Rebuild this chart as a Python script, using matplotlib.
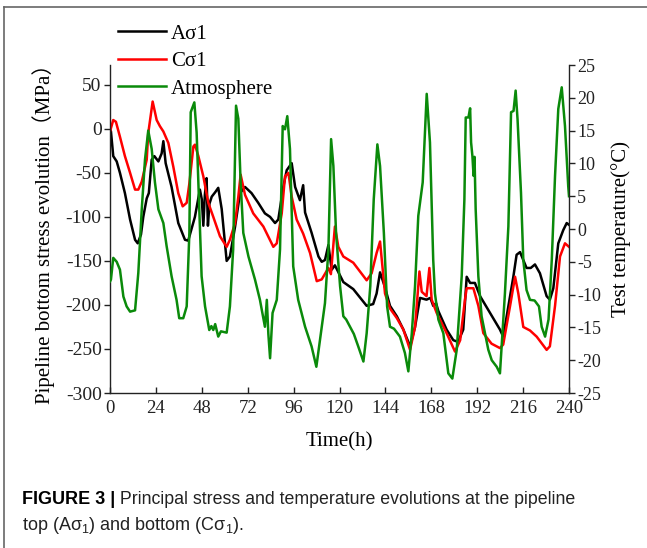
import matplotlib
matplotlib.use("Agg")
import matplotlib.pyplot as plt
from matplotlib.lines import Line2D

# ---- data ----
# A sigma1 (pipeline top stress, MPa)
a_time = [0, 0.5, 1.7, 3.5, 5.2, 7.8, 10.5, 13.1, 14.5, 16.2, 17.4, 19.2, 20.3, 21.8, 23.2,
          25.3, 27.0, 27.9, 29.1, 32.2, 35.7, 39.2, 40.9, 44.4, 47.0, 48.0, 48.8, 49.6, 50.5,
          51.2, 52.0, 53.2, 55.0, 56.6, 58.4, 61.0, 62.7, 65.4, 68.0, 70.6, 74.0, 77.5, 81.0,
          83.7, 86.3, 88.0, 90.6, 92.4, 95.0, 96.8, 99.3, 101.0, 102.0, 105.4, 109.0, 110.7,
          112.4, 114.2, 115.9, 117.6, 122.0, 127.2, 134.2, 137.6, 139.4, 141.2, 143.8, 146.4,
          150.0, 153.4, 156.9, 159.5, 162.1, 165.5, 167.5, 169.0, 170.5, 171.7, 176.0, 179.5,
          182.0, 184.7, 186.5, 188.3, 190.8, 193.5, 198.7, 203.9, 205.6, 207.4, 210.9, 212.6,
          214.4, 216.1, 217.8, 220.0, 222.2, 224.8, 228.3, 230.0, 231.8, 234.4, 237.0, 238.8, 240.0]
a_sigma = [0, -3, -31, -37, -50, -73, -103, -126, -130, -120, -100, -79, -73, -35, -31,
           -37, -28, -14, -39, -66, -107, -126, -127, -100, -69, -80, -110, -75, -56,
           -110, -85, -77, -72, -67, -91, -150, -145, -111, -73, -66, -73, -84, -96,
           -100, -107, -103, -66, -47, -39, -66, -81, -64, -95, -118, -145, -151,
           -149, -132, -160, -155, -174, -182, -201, -199, -187, -163, -180, -201,
           -213, -228, -247, -225, -192, -194, -192, -201, -198, -207, -228, -240,
           -242, -228, -168, -175, -175, -190, -209, -228, -236, -213, -168, -143,
           -140, -149, -158, -158, -154, -164, -190, -194, -181, -130, -115, -107, -109]

# C sigma1 (pipeline bottom stress, MPa)
c_time = [0, 1.7, 3.1, 5.2, 7.8, 10.5, 13.1, 14.8, 16.6, 19.2, 20.0, 22.3, 24.4, 26.1, 27.9,
          30.5, 33.1, 35.7, 38.0, 40.1, 41.5, 43.6, 44.4, 46.2, 48.8, 51.4, 54.0, 57.5, 61.0,
          62.7, 65.4, 67.1, 68.3, 70.6, 74.9, 80.2, 85.4, 87.2, 89.8, 91.5, 93.3, 95.0, 97.6,
          101.0, 104.6, 108.1, 110.7, 114.2, 115.5, 117.6, 119.4, 122.0, 127.2, 134.2, 136.8,
          139.4, 141.2, 143.8, 146.4, 150.0, 153.4, 156.9, 159.5, 161.8, 163.0, 165.5, 167.0,
          168.2, 170.8, 176.0, 180.4, 183.1, 185.6, 186.5, 190.0, 192.6, 195.2, 199.5, 203.9,
          205.6, 209.2, 211.8, 213.5, 216.1, 219.6, 223.1, 228.3, 230.0, 232.7, 235.3, 237.9, 240.0]
c_sigma = [-3, 10, 8, -9, -31, -50, -69, -69, -60, -35, -5, 31, 10, 3, -3,
           -16, -43, -73, -88, -84, -62, -20, -18, -31, -54, -84, -100, -122, -134,
           -126, -107, -77, -52, -75, -96, -111, -134, -130, -96, -54, -50, -77, -103,
           -119, -141, -173, -171, -158, -165, -111, -134, -145, -152, -172, -164,
           -141, -128, -187, -204, -215, -228, -251, -225, -162, -185, -190, -158,
           -194, -209, -232, -253, -240, -194, -181, -181, -201, -232, -244, -249,
           -245, -201, -168, -187, -225, -229, -236, -251, -247, -201, -145, -130, -134]

# Atmosphere temperature (deg C, right axis)
t_time = [0, 0.5, 1.7, 3.5, 5.2, 7.0, 8.7, 10.5, 13.1, 14.8, 16.6, 18.3, 20.0, 21.8, 23.5,
          25.3, 27.9, 29.6, 32.2, 34.8, 36.2, 38.3, 40.1, 41.5, 42.2, 44.1, 45.3, 46.5, 47.9,
          49.7, 51.9, 53.0, 54.0, 55.0, 56.6, 58.0, 61.0, 62.7, 64.4, 65.9, 67.1, 68.3, 69.7,
          72.4, 75.8, 78.4, 81.0, 82.0, 82.8, 83.7, 85.0, 87.2, 88.9, 90.3, 91.5, 92.7, 94.1,
          95.8, 98.4, 102.0, 105.4, 107.9, 110.7, 112.4, 114.2, 115.6, 116.8, 118.2, 120.3,
          122.0, 123.5, 125.5, 127.5, 129.8, 132.5, 134.2, 136.1, 137.9, 139.8, 141.2, 143.2,
          144.9, 146.4, 148.5, 151.6, 154.2, 156.0, 157.8, 159.5, 161.2, 163.5, 164.7, 165.6,
          167.3, 169.0, 169.9, 171.7, 174.3, 176.9, 179.0, 181.3, 183.9, 185.3, 186.0, 187.4,
          188.3, 188.8, 189.5, 190.1, 190.6, 191.2, 192.6, 194.3, 196.1, 197.8, 199.6, 202.2,
          203.9, 205.1, 206.5, 208.3, 209.7, 211.0, 212.1, 213.1, 214.9, 216.1, 217.8, 219.6,
          222.0, 224.3, 225.7, 227.5, 229.3, 231.0, 232.7, 234.4, 236.2, 237.9, 239.6, 240.0]
t_temp = [-8.0, -7.7, -4.4, -5.0, -6.2, -10.3, -11.8, -12.6, -12.4, -6.7, 3.0, 10.6, 15.0, 12.2, 7.1,
          3.0, 0.9, -2.6, -7.2, -10.8, -13.6, -13.6, -11.8, -0.6, 17.8, 19.3, 14.7, 4.5, -7.2,
          -11.8, -15.4, -14.8, -15.4, -14.5, -16.4, -15.6, -15.8, -11.8, -3.1, 18.8, 16.8, 7.1, -0.6,
          -4.2, -7.7, -10.8, -14.9, -10.8, -16.0, -19.7, -12.8, -10.8, -3.1, 15.7, 15.2, 17.2, 12.2,
          -5.7, -10.8, -14.9, -17.9, -21.0, -14.9, -11.3, -3.1, 13.7, 9.6, -0.6, -8.7,
          -13.3, -13.8, -14.9, -16.0, -17.9, -20.2, -15.9, -8.7, 4.5, 12.9, 9.6, -0.6,
          -11.8, -14.9, -15.2, -16.4, -18.9, -21.7, -15.9, -8.7, 2.0, 7.1, 14.7, 20.6,
          13.2, -4.7, -9.8, -13.8, -15.9, -22.0, -22.8, -18.4, -7.2, 4.5, 17.0, 17.0,
          18.4, 13.2, 11.1, 8.1, 11.0, 3.0, -7.2, -13.3, -15.9, -18.4, -20.0, -21.0,
          -22.0, -16.4, -9.8, 0.4, 17.8, 18.0, 21.1, 16.7, 5.5, -4.7, -9.3, -10.8,
          -10.9, -11.8, -14.9, -16.4, -13.8, -4.7, 8.1, 18.3, 21.6, 15.7, 6.5, 5.0]

series_labels = ["A\u03c31", "C\u03c31", "Atmosphere"]
x_ticks = list(range(0, 241, 24))
left_ticks = list(range(-300, 51, 50))
right_ticks = list(range(-25, 26, 5))

plt.rcParams["font.family"] = ["Liberation Serif", "Noto Sans CJK SC"]
plt.rcParams["axes.unicode_minus"] = False
plt.rcParams["mathtext.fontset"] = "custom"
plt.rcParams["mathtext.rm"] = "Liberation Sans"
plt.rcParams["mathtext.it"] = "Liberation Sans:italic"

W, H = 647, 548
fig = plt.figure(figsize=(W / 100, H / 100), dpi=100)
ax = fig.add_axes([110 / W, 1 - 393 / H, 459 / W, 328 / H])
ax2 = ax.twinx()

spine_col = "#222222"
l1, = ax.plot(a_time, a_sigma, color="black", lw=1.8)
l2, = ax.plot(c_time, c_sigma, color="#ff0000", lw=1.8)
l3, = ax2.plot(t_time, t_temp, color="#0a8a0a", lw=1.8)

ax.set_xlim(0, 240)
ax.set_ylim(-300, 72.5)
ax2.set_ylim(-25, 25)
ax.set_xticks(x_ticks)
ax.set_yticks(left_ticks)
ax2.set_yticks(right_ticks)

for a in (ax, ax2):
    a.spines["top"].set_visible(False)
    for s in a.spines.values():
        s.set_color(spine_col)
        s.set_linewidth(1.0)
ax.spines["right"].set_visible(False)
ax2.spines["left"].set_visible(False)
ax2.spines["bottom"].set_visible(False)

ax.tick_params(axis="x", direction="in", length=4, width=1, labelsize=13.5, pad=5, colors=spine_col)
ax.tick_params(axis="y", direction="out", length=4, width=1, labelsize=14, pad=2, colors=spine_col)
ax2.tick_params(axis="y", direction="out", length=4, width=1, labelsize=13, pad=2, colors=spine_col)

ax.set_xlabel("Time(h)", fontsize=15, labelpad=11)
ax.set_ylabel("Pipeline bottom stress evolution\uff08MPa\uff09", fontsize=15, labelpad=8)
ax2.set_ylabel("Test temperature(\u00b0C)", fontsize=15, labelpad=7)

fig.legend([l1, l2, l3], series_labels, loc="upper left",
           bbox_to_anchor=(118 / W, 1 - 24 / H), frameon=False, fontsize=15,
           handlelength=2.3, handletextpad=0.25, labelspacing=0.38, borderpad=0,
           borderaxespad=0)

# figure frame (top and left edges)
fig.add_artist(Line2D([4 / W, 4 / W], [0, 1 - 7 / H], transform=fig.transFigure,
                      color="#666666", lw=1.2))
fig.add_artist(Line2D([4 / W, 1], [1 - 7 / H, 1 - 7 / H], transform=fig.transFigure,
                      color="#666666", lw=1.2))

# caption
cap = fig.text(22 / W, 1 - 504 / H, "FIGURE 3 |", family="Liberation Sans",
               fontsize=13, fontweight="bold", va="baseline", ha="left")
ax.annotate(" Principal stress and temperature evolutions at the pipeline",
            xy=(1, 0), xycoords=cap, va="bottom", ha="left",
            family="Liberation Sans", fontsize=12.8, color="#222222", annotation_clip=False)
fig.text(22 / W, 1 - 530 / H, "top (A\u03c3$_\\mathrm{1}$) and bottom (C\u03c3$_\\mathrm{1}$).",
         family="Liberation Sans", fontsize=13, va="baseline", ha="left", color="#222222")

fig.savefig("out.png", dpi=100)
